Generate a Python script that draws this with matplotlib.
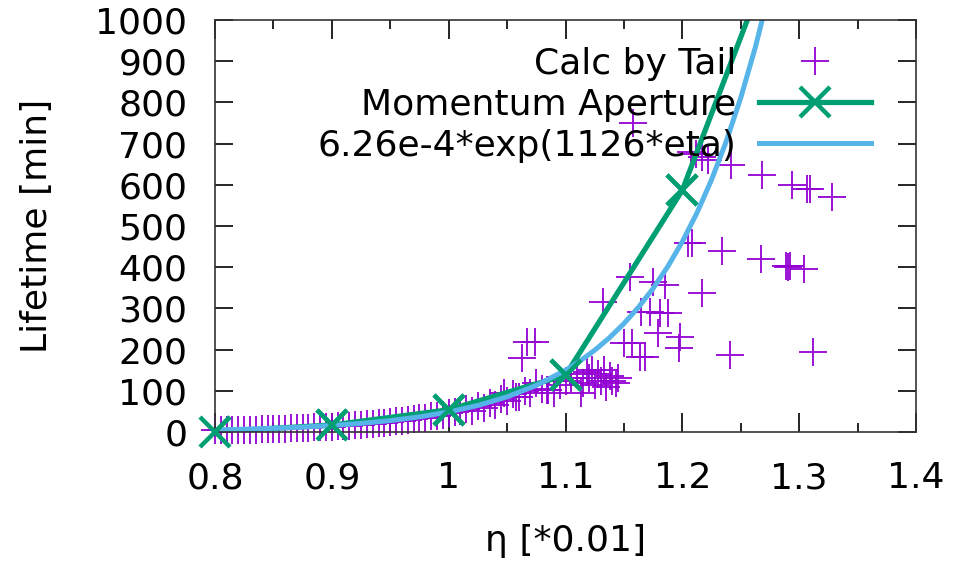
import matplotlib

matplotlib.use("Agg")

import matplotlib.pyplot as plt
from matplotlib.ticker import MultipleLocator

PURPLE = "#9400D3"
GREEN = "#009E73"
BLUE = "#56B4E9"

# Calc by Tail (scatter)
tail_eta = [
    0.800, 0.805, 0.810, 0.815, 0.820, 0.825, 0.830, 0.835, 0.840, 0.845,
    0.850, 0.855, 0.860, 0.865, 0.870, 0.875, 0.880, 0.885, 0.890, 0.895,
    0.900, 0.905, 0.910, 0.915, 0.920, 0.925, 0.930, 0.935, 0.940, 0.945,
    0.950, 0.955, 0.960, 0.965, 0.970, 0.975, 0.980, 0.985, 0.990, 0.995,
    1.000, 1.005, 1.010, 1.015, 1.020, 1.025, 1.030, 1.035, 1.040, 1.045,
    1.050, 1.055, 1.060, 1.065, 1.070, 1.075, 1.080, 1.085, 1.090, 1.095,
    1.100, 1.063, 1.067, 1.074, 1.047, 1.058, 1.084,
    1.105, 1.110, 1.113, 1.115, 1.118, 1.120, 1.123, 1.125, 1.128, 1.130,
    1.133, 1.135, 1.138, 1.140, 1.143, 1.145,
    1.132, 1.155, 1.158, 1.150, 1.157, 1.164, 1.168, 1.165, 1.172, 1.181,
    1.188, 1.175, 1.185, 1.179, 1.198, 1.197, 1.205, 1.208, 1.217, 1.234,
    1.241, 1.207, 1.212, 1.217, 1.222, 1.242, 1.268, 1.294, 1.307, 1.309,
    1.328, 1.267, 1.289, 1.290, 1.292, 1.304, 1.312,
]
tail_life = [
    4, 4, 5, 5, 5, 6, 6, 6, 7, 7,
    8, 8, 8, 9, 9, 10, 10, 11, 12, 12,
    13, 14, 15, 15, 17, 18, 19, 20, 22, 23,
    25, 26, 27, 29, 31, 34, 35, 38, 40, 42,
    45, 48, 50, 56, 52, 62, 58, 70, 66, 80,
    75, 92, 86, 100, 95, 118, 105, 102, 94, 114,
    125, 180, 219, 219, 94, 86, 102,
    130, 140, 95, 120, 145, 130, 150, 115, 140, 125,
    150, 110, 135, 125, 120, 130,
    316, 377, 749, 215, 215, 183, 183, 292, 292, 288,
    288, 365, 357, 241, 231, 203, 460, 460, 338, 439,
    187, 680, 675, 667, 660, 648, 624, 600, 589, 590,
    571, 420, 403, 400, 402, 396, 195,
]

# Momentum Aperture
ma_eta = [0.8, 0.9, 1.0, 1.1, 1.2, 1.3]
ma_life = [1, 17, 54, 138, 587, 1330]

# 6.26e-4*exp(1126*eta), values
fit_eta = [
    0.800, 0.825, 0.850, 0.875, 0.900, 0.925, 0.950, 0.975, 1.000, 1.025,
    1.050, 1.075, 1.100, 1.1125, 1.125, 1.1375, 1.150, 1.1625, 1.175, 1.1875,
    1.200, 1.2125, 1.225, 1.2375, 1.250, 1.2625, 1.275,
]
fit_life = [
    5.1, 6.8, 9.0, 11.9, 15.8, 20.9, 27.7, 36.7, 48.6, 64.4,
    85.4, 113.1, 149.9, 172.5, 198.6, 228.6, 263.2, 303.0, 348.7, 401.4,
    462.1, 531.9, 612.4, 704.9, 811.5, 934.1, 1075.3,
]

FS = 26
plt.rcParams["font.family"] = "DejaVu Sans"

fig = plt.figure(figsize=(9.55, 5.61), dpi=100)
ax = fig.add_axes([0.2251, 0.2299, 0.7341, 0.7344])

ax.plot(tail_eta, tail_life, linestyle="none", marker="+", markersize=20,
        markeredgewidth=1.3, color=PURPLE, label="Calc by Tail", clip_on=False)
ax.plot(ma_eta, ma_life, color=GREEN, linewidth=3.8, marker="x", markersize=21,
        markeredgewidth=3.2, label="Momentum Aperture")
# markers inside the frame drawn again unclipped so the one sitting on the axis is whole
inside = [(e, l) for e, l in zip(ma_eta, ma_life) if l <= 1000]
ax.plot([e for e, _ in inside], [l for _, l in inside], linestyle="none", marker="x",
        markersize=21, markeredgewidth=3.2, color=GREEN, clip_on=False, zorder=3)
ax.plot(fit_eta, fit_life, color=BLUE, linewidth=3.6, label="6.26e-4*exp(1126*eta)")

ax.set_xlim(0.8, 1.4)
ax.set_ylim(0, 1000)
ax.xaxis.set_major_locator(MultipleLocator(0.1))
ax.xaxis.set_minor_locator(MultipleLocator(0.05))
ax.yaxis.set_major_locator(MultipleLocator(100))
ax.xaxis.set_major_formatter(plt.FuncFormatter(lambda v, p: f"{v:g}"))

ax.tick_params(which="both", direction="in", top=True, right=True, colors="black",
               labelsize=FS, width=1.2)
ax.tick_params(axis="x", which="major", length=13.5, pad=21)
ax.tick_params(axis="x", which="minor", length=6.5)
ax.tick_params(axis="y", which="major", length=13, pad=20)
for spine in ax.spines.values():
    spine.set_linewidth(1.2)
    spine.set_color("#333333")

ax.set_xlabel("η [*0.01]", fontsize=FS, labelpad=21)
ax.set_ylabel("Lifetime [min]", fontsize=FS, labelpad=30)

ax.legend(loc="upper right", bbox_to_anchor=(0.975, 1.0), frameon=False, markerfirst=False,
          fontsize=FS, handlelength=3.1, handletextpad=0.65, labelspacing=0.19,
          borderpad=0.25)

fig.savefig("out.png", dpi=100)
